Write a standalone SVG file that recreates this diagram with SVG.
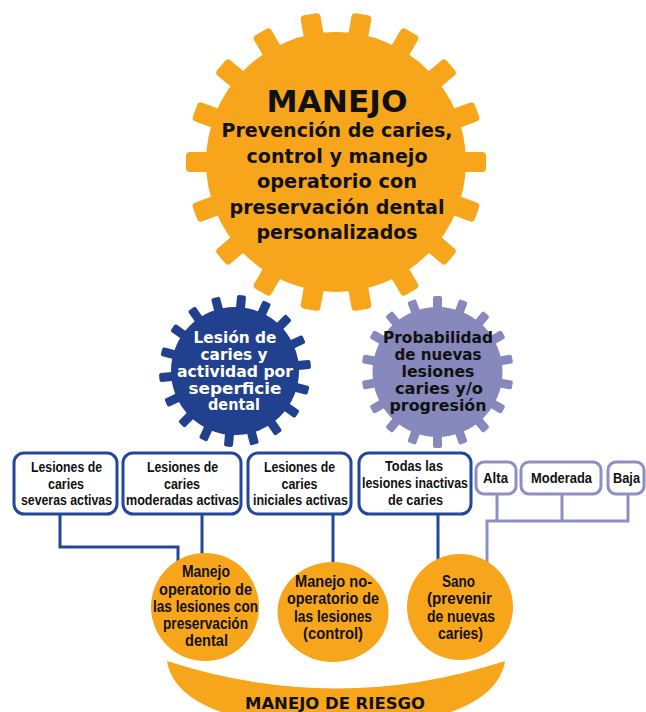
<svg xmlns="http://www.w3.org/2000/svg" width="646" height="712" viewBox="0 0 646 712">
<style>
.or{fill:#F7A61C}
.bl{fill:#21418F}
.pu{fill:#8788BC}
.gt{font-family:"DejaVu Sans",Verdana,sans-serif;font-weight:bold;text-anchor:middle}
.nt{font-family:"Liberation Sans",Arial,sans-serif;font-weight:bold;text-anchor:middle;font-size:15px;fill:#111}
.ct{font-family:"Liberation Sans",Arial,sans-serif;font-weight:bold;text-anchor:middle;font-size:16px;fill:#111}
.bx{fill:#fff;stroke:#23479A;stroke-width:3}
.px{fill:#fff;stroke:#8D8FC4;stroke-width:3}
.cb{fill:none;stroke:#23479A;stroke-width:3}
.cp{fill:none;stroke:#8D8FC4;stroke-width:3}
</style>
<defs>
<rect id="tb" x="118" y="-10" width="32" height="20" rx="4"/>
<rect id="ts" x="58" y="-4.5" width="18" height="9" rx="2"/>
</defs>
<rect width="646" height="712" fill="#fff"/>

<g id="connectors">
<path class="cb" d="M60,514 V547 H178 V585"/>
<path class="cb" d="M202,514 V585"/>
<path class="cb" d="M333,514 V585"/>
<path class="cb" d="M438,514 V585"/>
<path class="cp" d="M497,494 V521 M562,494 V521 M628,494 V521 M485.5,521 H629.5 M487,521 V585"/>
</g>

<g id="gear-manejo">
<g class="or" transform="translate(336,162)">
<circle r="130"/>
<use href="#tb" transform="rotate(0)"/><use href="#tb" transform="rotate(20)"/><use href="#tb" transform="rotate(40)"/><use href="#tb" transform="rotate(60)"/><use href="#tb" transform="rotate(80)"/><use href="#tb" transform="rotate(100)"/><use href="#tb" transform="rotate(120)"/><use href="#tb" transform="rotate(140)"/><use href="#tb" transform="rotate(160)"/><use href="#tb" transform="rotate(180)"/><use href="#tb" transform="rotate(200)"/><use href="#tb" transform="rotate(220)"/><use href="#tb" transform="rotate(240)"/><use href="#tb" transform="rotate(260)"/><use href="#tb" transform="rotate(280)"/><use href="#tb" transform="rotate(300)"/><use href="#tb" transform="rotate(320)"/><use href="#tb" transform="rotate(340)"/>
</g>
<text class="gt" x="337" y="112" font-size="31" fill="#111" textLength="141" lengthAdjust="spacingAndGlyphs">MANEJO</text>
<g class="gt" font-size="19" fill="#111">
<text x="337" y="137" textLength="231" lengthAdjust="spacingAndGlyphs">Prevención de caries,</text>
<text x="337" y="162.5" textLength="181" lengthAdjust="spacingAndGlyphs">control y manejo</text>
<text x="337" y="188" textLength="160" lengthAdjust="spacingAndGlyphs">operatorio con</text>
<text x="337" y="213.5" textLength="215" lengthAdjust="spacingAndGlyphs">preservación dental</text>
<text x="337" y="239" textLength="161" lengthAdjust="spacingAndGlyphs">personalizados</text>
</g>
</g>

<g id="gear-lesion">
<g class="bl" transform="translate(235,371)">
<circle r="64"/>
<g transform="rotate(-85)">
<use href="#ts" transform="rotate(0)"/><use href="#ts" transform="rotate(20)"/><use href="#ts" transform="rotate(40)"/><use href="#ts" transform="rotate(60)"/><use href="#ts" transform="rotate(80)"/><use href="#ts" transform="rotate(100)"/><use href="#ts" transform="rotate(120)"/><use href="#ts" transform="rotate(140)"/><use href="#ts" transform="rotate(160)"/><use href="#ts" transform="rotate(180)"/><use href="#ts" transform="rotate(200)"/><use href="#ts" transform="rotate(220)"/><use href="#ts" transform="rotate(240)"/><use href="#ts" transform="rotate(260)"/><use href="#ts" transform="rotate(280)"/><use href="#ts" transform="rotate(300)"/><use href="#ts" transform="rotate(320)"/><use href="#ts" transform="rotate(340)"/>
</g>
</g>
<g class="gt" font-size="16" fill="#fff">
<text x="235" y="343" textLength="83" lengthAdjust="spacingAndGlyphs">Lesión de</text>
<text x="234" y="360" textLength="67" lengthAdjust="spacingAndGlyphs">caries y</text>
<text x="235" y="377" textLength="116" lengthAdjust="spacingAndGlyphs">actividad por</text>
<text x="235" y="393.5" textLength="93" lengthAdjust="spacingAndGlyphs">seperficie</text>
<text x="234" y="410" textLength="52" lengthAdjust="spacingAndGlyphs">dental</text>
</g>
</g>

<g id="gear-probabilidad">
<g class="pu" transform="translate(437.5,372)">
<circle r="65"/>
<g transform="rotate(-90)">
<use href="#ts" transform="rotate(0)"/><use href="#ts" transform="rotate(20)"/><use href="#ts" transform="rotate(40)"/><use href="#ts" transform="rotate(60)"/><use href="#ts" transform="rotate(80)"/><use href="#ts" transform="rotate(100)"/><use href="#ts" transform="rotate(120)"/><use href="#ts" transform="rotate(140)"/><use href="#ts" transform="rotate(160)"/><use href="#ts" transform="rotate(180)"/><use href="#ts" transform="rotate(200)"/><use href="#ts" transform="rotate(220)"/><use href="#ts" transform="rotate(240)"/><use href="#ts" transform="rotate(260)"/><use href="#ts" transform="rotate(280)"/><use href="#ts" transform="rotate(300)"/><use href="#ts" transform="rotate(320)"/><use href="#ts" transform="rotate(340)"/>
</g>
</g>
<g class="gt" font-size="16" fill="#111">
<text x="438" y="343" textLength="110" lengthAdjust="spacingAndGlyphs">Probabilidad</text>
<text x="438" y="360" textLength="87" lengthAdjust="spacingAndGlyphs">de nuevas</text>
<text x="438" y="377" textLength="73" lengthAdjust="spacingAndGlyphs">lesiones</text>
<text x="439" y="394" textLength="88" lengthAdjust="spacingAndGlyphs">caries y/o</text>
<text x="438" y="411" textLength="97" lengthAdjust="spacingAndGlyphs">progresión</text>
</g>
</g>

<g id="box-severas">
<rect class="bx" x="14" y="453" width="103" height="61" rx="10"/>
<text class="nt" x="66.5" y="471.5" textLength="71" lengthAdjust="spacingAndGlyphs">Lesiones de</text>
<text class="nt" x="66" y="488.5" textLength="36" lengthAdjust="spacingAndGlyphs">caries</text>
<text class="nt" x="66.5" y="505" textLength="91" lengthAdjust="spacingAndGlyphs">severas activas</text>
</g>
<g id="box-moderadas">
<rect class="bx" x="123" y="453" width="118" height="61" rx="10"/>
<text class="nt" x="182.5" y="471.5" textLength="71" lengthAdjust="spacingAndGlyphs">Lesiones de</text>
<text class="nt" x="182" y="488.5" textLength="36" lengthAdjust="spacingAndGlyphs">caries</text>
<text class="nt" x="182.5" y="505" textLength="113" lengthAdjust="spacingAndGlyphs">moderadas activas</text>
</g>
<g id="box-iniciales">
<rect class="bx" x="248" y="453" width="103" height="61" rx="10"/>
<text class="nt" x="299.5" y="471.5" textLength="71" lengthAdjust="spacingAndGlyphs">Lesiones de</text>
<text class="nt" x="299.5" y="488.5" textLength="36" lengthAdjust="spacingAndGlyphs">caries</text>
<text class="nt" x="300.5" y="505" textLength="95" lengthAdjust="spacingAndGlyphs">iniciales activas</text>
</g>
<g id="box-inactivas">
<rect class="bx" x="359" y="453" width="112" height="61" rx="10"/>
<text class="nt" x="414" y="471" textLength="58" lengthAdjust="spacingAndGlyphs">Todas las</text>
<text class="nt" x="415" y="488" textLength="106" lengthAdjust="spacingAndGlyphs">lesiones inactivas</text>
<text class="nt" x="415.5" y="505" textLength="55" lengthAdjust="spacingAndGlyphs">de caries</text>
</g>
<g id="box-alta">
<rect class="px" x="476" y="462" width="40" height="32" rx="8"/>
<text class="nt" x="495.5" y="483" textLength="25" lengthAdjust="spacingAndGlyphs">Alta</text>
</g>
<g id="box-moderada">
<rect class="px" x="521" y="462" width="80" height="32" rx="8"/>
<text class="nt" x="561.5" y="483" textLength="61" lengthAdjust="spacingAndGlyphs">Moderada</text>
</g>
<g id="box-baja">
<rect class="px" x="608" y="462" width="36" height="32" rx="8"/>
<text class="nt" x="626.5" y="483" textLength="27" lengthAdjust="spacingAndGlyphs">Baja</text>
</g>

<g id="circle-operatorio">
<circle class="or" cx="205" cy="607" r="54"/>
<text class="ct" x="206" y="577" textLength="48" lengthAdjust="spacingAndGlyphs">Manejo</text>
<text class="ct" x="205.5" y="594.5" textLength="93" lengthAdjust="spacingAndGlyphs">operatorio de</text>
<text class="ct" x="205.5" y="611.5" textLength="105" lengthAdjust="spacingAndGlyphs">las lesiones con</text>
<text class="ct" x="205.5" y="628.5" textLength="85" lengthAdjust="spacingAndGlyphs">preservación</text>
<text class="ct" x="206.5" y="645.5" textLength="43" lengthAdjust="spacingAndGlyphs">dental</text>
</g>
<g id="circle-no-operatorio">
<ellipse class="or" cx="333" cy="612" rx="55.5" ry="50"/>
<text class="ct" x="333.5" y="587" textLength="77" lengthAdjust="spacingAndGlyphs">Manejo no-</text>
<text class="ct" x="333" y="604" textLength="92" lengthAdjust="spacingAndGlyphs">operatorio de</text>
<text class="ct" x="333" y="621.5" textLength="78" lengthAdjust="spacingAndGlyphs">las lesiones</text>
<text class="ct" x="333" y="639" textLength="60" lengthAdjust="spacingAndGlyphs">(control)</text>
</g>
<g id="circle-sano">
<circle class="or" cx="460" cy="607" r="53"/>
<text class="ct" x="458.5" y="587" textLength="33" lengthAdjust="spacingAndGlyphs">Sano</text>
<text class="ct" x="459.5" y="604" textLength="65" lengthAdjust="spacingAndGlyphs">(prevenir</text>
<text class="ct" x="461" y="621.5" textLength="68" lengthAdjust="spacingAndGlyphs">de nuevas</text>
<text class="ct" x="460.5" y="639" textLength="45" lengthAdjust="spacingAndGlyphs">caries)</text>
</g>

<g id="manejo-riesgo">
<path class="or" d="M167,661 Q336,716 505,661 C497,712 412,728 336,728 C260,728 175,712 167,661 Z"/>
<text class="gt" x="335" y="709" font-size="16" fill="#111" textLength="180" lengthAdjust="spacingAndGlyphs">MANEJO DE RIESGO</text>
</g>
</svg>
